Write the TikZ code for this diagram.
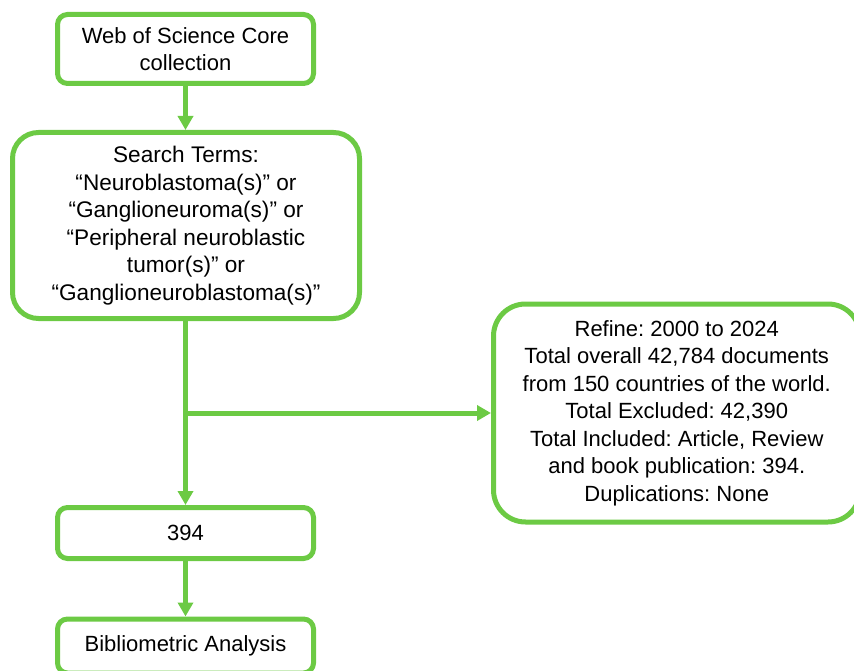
\documentclass[tikz,border=0pt]{standalone}
\usepackage{fontspec}
\setmainfont{Liberation Sans}
\usepackage{tikz}
\usetikzlibrary{arrows.meta}
\definecolor{flowgreen}{RGB}{108,202,68}
\frenchspacing

\begin{document}
\begin{tikzpicture}[x=1pt, y=-1pt,
   box/.style={draw=flowgreen, fill=white, line width=5pt, align=center,
      rounded corners=10pt, inner sep=0pt,
      font=\fontsize{22}{27.5}\selectfont},
   flow/.style={draw=flowgreen, line width=5pt,
      -{Triangle[length=14pt, width=15pt]}}]

   \useasboundingbox (0,0) rectangle (854,671);

   \node[box, minimum width=256pt, minimum height=69pt] (wos) at (185.5,49)
      {Web of Science Core\\collection};
   \node[box, minimum width=347pt, minimum height=186pt, rounded corners=26pt,
      font=\fontsize{22.6}{27.5}\selectfont] (search) at (186,225.5)
      {Search Terms:\\“Neuroblastoma(s)” or\\“Ganglioneuroma(s)” or\\“Peripheral neuroblastic\\tumor(s)” or\\“Ganglioneuroblastoma(s)”};
   \node[box, minimum width=366.5pt, minimum height=218pt, rounded corners=32pt] (refine) at (676.75,413)
      {Refine: 2000 to 2024\\Total overall 42,784 documents\\from 150 countries of the world.\\Total Excluded: 42,390\\Total Included: Article, Review\\and book publication: 394.\\Duplications: None};
   \node[box, minimum width=256pt, minimum height=51pt] (count) at (185.5,533) {394};
   \node[box, minimum width=256pt, minimum height=54pt] (biblio) at (185.5,646) {Bibliometric Analysis};

   \coordinate (split) at (count.north |- refine.west);

   \draw[flow] (wos.south) -- (wos.south |- search.north);
   \draw[flow] (count.north |- search.south) -- (count.north);
   \draw[flow] (split) -- (refine.west);
   \draw[flow] (count.south) -- (biblio.north);

\end{tikzpicture}
\end{document}
